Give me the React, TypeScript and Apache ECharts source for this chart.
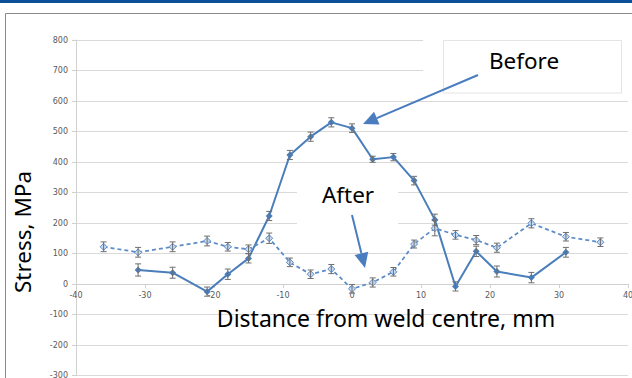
import React, { useEffect, useRef } from "react";
import * as echarts from "echarts";

const positionsBefore = [-31, -26, -21, -18, -15, -12, -9, -6, -3, 0, 3, 6, 9, 12, 15, 18, 21, 26, 31];
const stressBefore = [46, 37, -25, 32, 84, 223, 423, 483, 530, 511, 409, 416, 339, 211, -8, 107, 41, 21, 104];
const errorBefore = [20, 18, 15, 17, 15, 15, 15, 15, 15, 14, 10, 12, 14, 18, 15, 17, 18, 17, 16];

const positionsAfter = [-36, -31, -26, -21, -18, -15, -12, -9, -6, -3, 0, 3, 6, 9, 12, 15, 18, 21, 26, 31, 36];
const stressAfter = [122, 104, 122, 141, 122, 114, 150, 71, 32, 49, -16, 5, 40, 131, 183, 161, 144, 119, 199, 155, 137];
const errorAfter = [16, 16, 16, 16, 14, 14, 17, 14, 14, 15, 14, 15, 14, 13, 25, 14, 15, 15, 15, 14, 14];

const xTitle = "Distance from weld centre, mm";
const yTitle = "Stress, MPa";
const labelBefore = "Before";
const labelAfter = "After";

const errorSeries = (xs: number[], ys: number[], es: number[]) => ({
  type: "custom",
  z: 5,
  silent: true,
  data: xs.map((x, i) => [x, ys[i], es[i]]),
  renderItem: (params: any, api: any) => {
    const x = api.value(0);
    const y = api.value(1);
    const e = api.value(2);
    const top = api.coord([x, y + e]);
    const bot = api.coord([x, y - e]);
    const style = { stroke: "#6e6e6e", lineWidth: 1, fill: "none" };
    return {
      type: "group",
      children: [
        { type: "line", shape: { x1: top[0], y1: top[1], x2: bot[0], y2: bot[1] }, style },
        { type: "line", shape: { x1: top[0] - 3, y1: top[1], x2: top[0] + 3, y2: top[1] }, style },
        { type: "line", shape: { x1: bot[0] - 3, y1: bot[1], x2: bot[0] + 3, y2: bot[1] }, style },
      ],
    };
  },
});

const arrowHead = (tip: number[], from: number[], len: number, half: number) => {
  const dx = tip[0] - from[0];
  const dy = tip[1] - from[1];
  const l = Math.sqrt(dx * dx + dy * dy);
  const ux = dx / l;
  const uy = dy / l;
  const bx = tip[0] - ux * len;
  const by = tip[1] - uy * len;
  return {
    base: [bx, by],
    points: [tip, [bx - uy * half, by + ux * half], [bx + uy * half, by - ux * half]],
  };
};

export default function App() {
  const ref = useRef<HTMLDivElement>(null);
  useEffect(() => {
    document.body.style.margin = "0";
    const chart = echarts.init(ref.current!, null, { renderer: "svg" });
    const arrowColor = "#4a7cc0";
    const b = arrowHead([363, 124], [478, 75], 15, 7);
    const a = arrowHead([365, 268], [352, 215], 15, 7);
    const gridTop = 40;
    const gridBottom = 2.5;
    const yMin = -300;
    const yMax = 800;
    const plotH = 378 - gridTop - gridBottom;
    const zeroOffset = -(plotH * (0 - yMin)) / (yMax - yMin);
    chart.setOption({
      animation: false,
      backgroundColor: "#ffffff",
      grid: { left: 76, right: 4, top: gridTop, bottom: gridBottom, containLabel: false, outerBoundsMode: "none" },
      xAxis: {
        type: "value",
        min: -40,
        max: 40,
        interval: 10,
        position: "bottom",
        offset: zeroOffset,
        axisLine: { show: true, onZero: false, lineStyle: { color: "#d0d0d0", width: 1 } },
        axisTick: { show: true, length: 4, lineStyle: { color: "#d0d0d0" } },
        axisLabel: { fontSize: 8, color: "#595959", fontFamily: "DejaVu Sans", margin: 7 },
        splitLine: { show: false },
      },
      yAxis: {
        type: "value",
        min: yMin,
        max: yMax,
        interval: 100,
        axisLine: { show: true, onZero: false, lineStyle: { color: "#d0d0d0", width: 1 } },
        axisTick: { show: true, length: 4, lineStyle: { color: "#d0d0d0" } },
        axisLabel: { fontSize: 8, color: "#595959", fontFamily: "DejaVu Sans", margin: 8 },
        splitLine: { show: true, lineStyle: { color: "#d9d9d9", width: 1 } },
      },
      series: [
        {
          type: "line",
          name: "Before",
          z: 3,
          data: positionsBefore.map((x, i) => [x, stressBefore[i]]),
          symbol: "diamond",
          symbolSize: 7,
          lineStyle: { color: "#4a7ebb", width: 2 },
          itemStyle: { color: "#4a7ebb" },
        },
        {
          type: "line",
          name: "After",
          z: 3,
          data: positionsAfter.map((x, i) => [x, stressAfter[i]]),
          symbol: "diamond",
          symbolSize: 7,
          lineStyle: { color: "#5b8cc8", width: 1.75, type: [4, 3] },
          itemStyle: { color: "#c9d9ee", borderColor: "#5b8cc8", borderWidth: 1 },
        },
        errorSeries(positionsBefore, stressBefore, errorBefore),
        errorSeries(positionsAfter, stressAfter, errorAfter),
      ],
      graphic: [
        { type: "rect", z: 100, shape: { x: 0, y: 0, width: 632, height: 3 }, style: { fill: "#0d4f98" } },
        { type: "rect", z: 100, shape: { x: 5.5, y: 13.5, width: 700, height: 500 }, style: { fill: "none", stroke: "#8a8a8a", lineWidth: 1 } },
        { type: "rect", z: 100, shape: { x: 423, y: 30, width: 205, height: 45 }, style: { fill: "#ffffff" } },
        { type: "rect", z: 100, shape: { x: 443.5, y: 40.5, width: 178, height: 52.5 }, style: { fill: "#ffffff", stroke: "#e4e4e4", lineWidth: 1 } },
        { type: "rect", z: 100, shape: { x: 297, y: 170, width: 101, height: 70 }, style: { fill: "#ffffff" } },
        { type: "line", z: 101, shape: { x1: 478, y1: 75, x2: b.base[0], y2: b.base[1] }, style: { stroke: arrowColor, lineWidth: 2 } },
        { type: "polygon", z: 101, shape: { points: b.points }, style: { fill: arrowColor } },
        { type: "line", z: 101, shape: { x1: 352, y1: 215, x2: a.base[0], y2: a.base[1] }, style: { stroke: arrowColor, lineWidth: 2 } },
        { type: "polygon", z: 101, shape: { points: a.points }, style: { fill: arrowColor } },
        { type: "text", z: 102, x: 524, y: 60, style: { text: labelBefore, fontSize: 22.5, fontFamily: "Noto Sans", fill: "#000000", align: "center", verticalAlign: "middle" } },
        { type: "text", z: 102, x: 348, y: 194, style: { text: labelAfter, fontSize: 22.5, fontFamily: "Noto Sans", fill: "#000000", align: "center", verticalAlign: "middle" } },
        { type: "text", z: 102, x: 386, y: 318, style: { text: xTitle, fontSize: 23, fontFamily: "Noto Sans", fill: "#000000", align: "center", verticalAlign: "middle" } },
        { type: "text", z: 102, x: 22, y: 232, rotation: Math.PI / 2, style: { text: yTitle, fontSize: 22.5, fontFamily: "Noto Sans", fill: "#000000", align: "center", verticalAlign: "middle" } },
      ],
    });
    return () => chart.dispose();
  }, []);
  return <div ref={ref} style={{ position: "fixed", left: 0, top: 0, width: 632, height: 378 }} />;
}
